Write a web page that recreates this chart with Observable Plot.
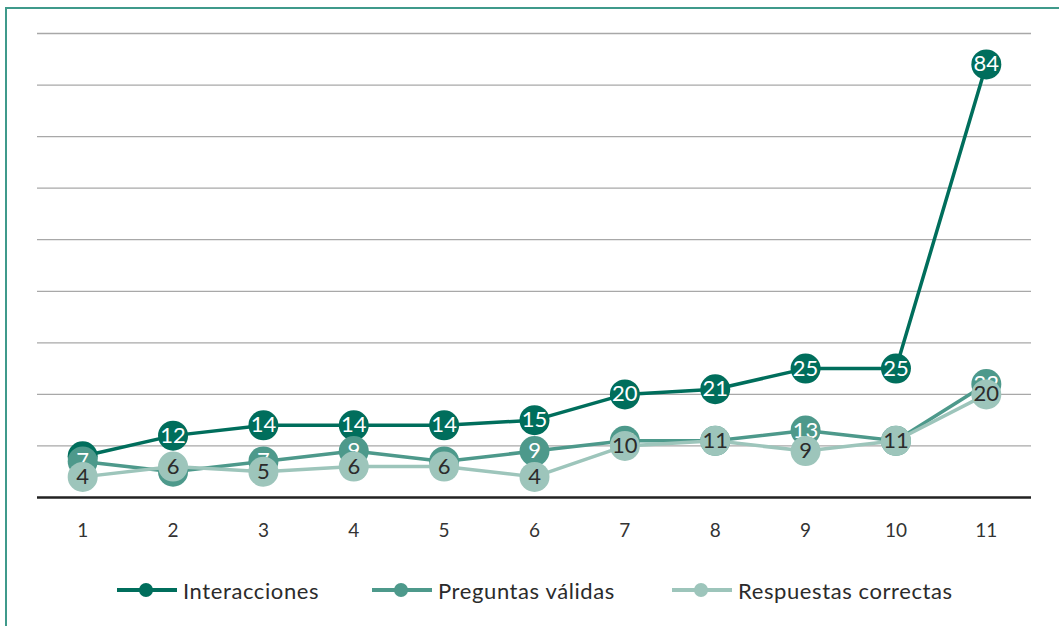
<!DOCTYPE html>
<html>
<head>
<meta charset="utf-8">
<script src="https://cdn.jsdelivr.net/npm/d3@7"></script>
<script src="https://cdn.jsdelivr.net/npm/@observablehq/plot@0.6"></script>
<style>
  html, body { margin: 0; padding: 0; background: #fff; width: 1059px; height: 626px; overflow: hidden; }
  #frame { position: absolute; left: 5px; top: 7px; width: 1200px; height: 800px; border: 2px solid #3f9a8b; box-sizing: border-box; }
  #chart { position: absolute; left: 0; top: 0; }
  #legend { position: absolute; left: 0; top: 574px; width: 1059px; height: 32px; font-family: Lato, "Open Sans", sans-serif; font-size: 22px; letter-spacing: 0.6px; color: #2b2b2b; }
  .item { position: absolute; top: 0; height: 32px; display: flex; align-items: center; }
  .item svg { margin-right: 6px; }
</style>
</head>
<body>
<div id="frame"></div>
<div id="chart"></div>
<div id="legend"></div>
<script>
const periods = [1, 2, 3, 4, 5, 6, 7, 8, 9, 10, 11];
const interacciones = [8, 12, 14, 14, 14, 15, 20, 21, 25, 25, 84];
const preguntas = [7, 5, 7, 9, 7, 9, 11, 11, 13, 11, 22];
const respuestas = [4, 6, 5, 6, 6, 4, 10, 11, 9, 11, 20];
const seriesNames = ["Interacciones", "Preguntas válidas", "Respuestas correctas"];
const seriesColors = ["#006e5c", "#4d998b", "#9dc5bb"];
const labelColors = ["#ffffff", "#ffffff", "#2b2b2b"];
const gridValues = [10, 20, 30, 40, 50, 60, 70, 80, 90];

const seriesValues = [interacciones, preguntas, respuestas];
const seriesData = seriesValues.map((vals, i) =>
  periods.map((p, j) => ({period: p, value: vals[j], series: seriesNames[i]})));

const font = "Lato, 'Open Sans', sans-serif";
const marks = [
  Plot.ruleY(gridValues, {stroke: "#a8a8a8", strokeWidth: 1.3}),
  Plot.ruleY([0], {stroke: "#222", strokeWidth: 2.5}),
  Plot.axisX(periods, {tickSize: 0, tickPadding: 26, fontSize: 19, fill: "#333", fontFamily: font, label: null})
];
seriesData.forEach((d, i) => {
  marks.push(Plot.line(d, {x: "period", y: "value", stroke: seriesColors[i], strokeWidth: 3.5}));
  marks.push(Plot.dot(d, {x: "period", y: "value", r: 15, fill: seriesColors[i], stroke: "none"}));
  marks.push(Plot.text(d, {x: "period", y: "value", text: "value", fill: labelColors[i], fontSize: 22, fontFamily: font}));
});

const chart = Plot.plot({
  width: 1059,
  height: 560,
  marginLeft: 37,
  marginRight: 28,
  marginTop: 33,
  marginBottom: 63,
  x: {domain: [0.5, 11.5], axis: null, label: null},
  y: {domain: [0, 90], axis: null},
  style: {fontFamily: font, background: "transparent", overflow: "visible"},
  marks
});
document.getElementById("chart").appendChild(chart);

const legendPos = [117, 372, 672];
const legend = document.getElementById("legend");
seriesNames.forEach((name, i) => {
  const item = document.createElement("div");
  item.className = "item";
  item.style.left = legendPos[i] + "px";
  item.innerHTML = `<svg width="60" height="20"><line x1="0" y1="10" x2="60" y2="10" stroke="${seriesColors[i]}" stroke-width="4"/><circle cx="29" cy="10" r="7" fill="${seriesColors[i]}"/></svg><span>${name}</span>`;
  legend.appendChild(item);
});
</script>
</body>
</html>
